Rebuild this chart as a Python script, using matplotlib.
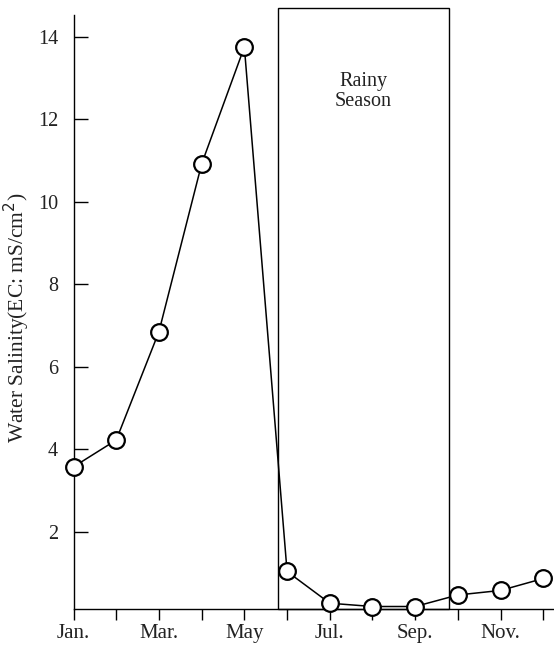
import numpy as np
import matplotlib
matplotlib.use('Agg')
import matplotlib.pyplot as plt
from matplotlib.patches import Rectangle

# Data

months = np.arange(1, 13)
salinity = [3.57, 4.22, 6.85, 10.92, 13.76, 1.03, 0.26, 0.18, 0.18, 0.46, 0.57, 0.86]
tick_labels = ['Jan.', 'Mar.', 'May', 'Jul.', 'Sep.', 'Nov.']
rainy_start, rainy_end = 5.78, 9.78

plt.rcParams['font.family'] = ['Liberation Serif', 'DejaVu Serif']

# Graph

fig = plt.figure(figsize=(5.54, 6.46), dpi=100)
ax = fig.add_axes([0.1327, 0.0573, 0.8673, 0.93])

ax.plot(months, salinity, color='black', linewidth=1.1, marker='o',
        markersize=12, markerfacecolor='white', markeredgecolor='black',
        markeredgewidth=1.6, clip_on=False, zorder=3)

ax.set_xlim(1, 12.25)
ax.set_ylim(0.12, 14.7)

# rainy season box
box = Rectangle((rainy_start, 0.12), rainy_end - rainy_start, 14.58, fill=False,
                edgecolor='black', linewidth=1.0, clip_on=False, zorder=2)
ax.add_patch(box)
ax.text((rainy_start + rainy_end) / 2, 12.68, 'Rainy\nSeason', ha='center', va='center',
        fontsize=14.5, linespacing=1.05, color='#222222')

# Axes styling
ax.spines['top'].set_visible(False)
ax.spines['right'].set_visible(False)
ax.spines['left'].set_bounds(0.12, 14.53)
for s in ['left', 'bottom']:
    ax.spines[s].set_linewidth(1.0)

ax.set_yticks([2, 4, 6, 8, 10, 12, 14])
ax.tick_params(axis='y', direction='in', length=10, width=1, labelsize=14.5, pad=11,
               labelcolor='#222222')
ax.set_xticks(months)
ax.set_xticklabels([tick_labels[i // 2] if i % 2 == 0 else '' for i in range(12)])
ax.tick_params(axis='x', direction='out', length=8, width=1, labelsize=15, pad=3,
               labelcolor='#222222')

# y label
fig.text(17 / 554, 1 - 318 / 646, 'Water Salinity(EC: mS/cm$^2$)', rotation=90,
         ha='center', va='center', fontsize=15.5, color='#222222')

fig.savefig('out.png', dpi=100)
